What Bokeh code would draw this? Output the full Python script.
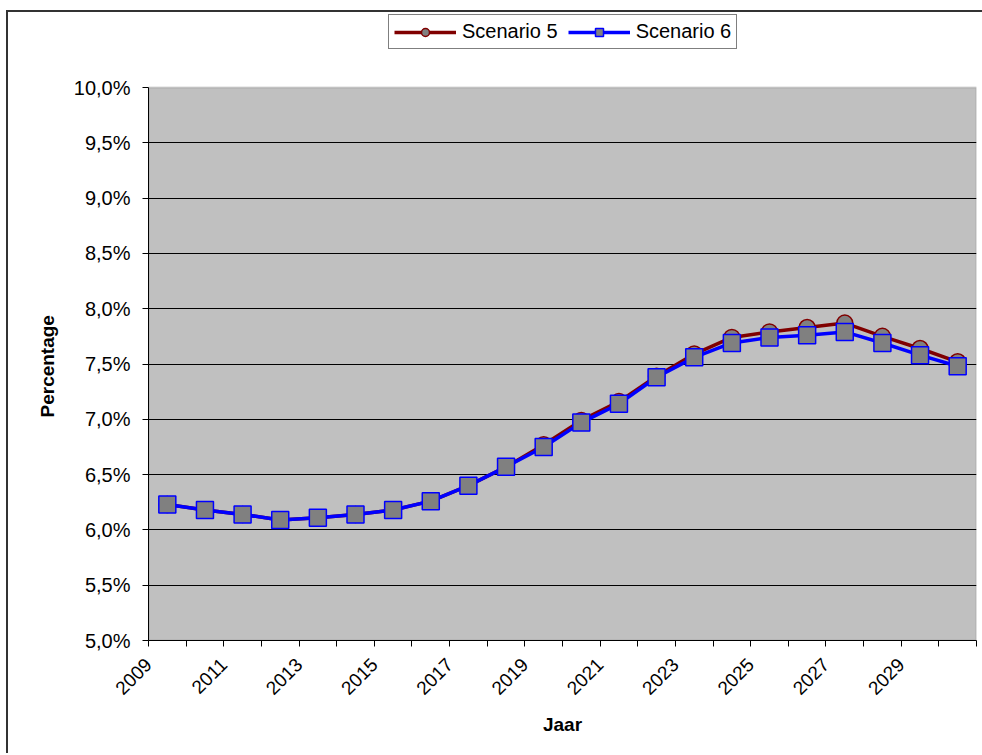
import math
from bokeh.plotting import figure
from bokeh.models import (ColumnDataSource, FixedTicker, Legend, LegendItem,
                          CustomJSTickFormatter, Range1d, BoxAnnotation, Title)
from bokeh.embed import file_html
from bokeh.resources import INLINE

# ---- data ----
years = [2009, 2010, 2011, 2012, 2013, 2014, 2015, 2016, 2017, 2018, 2019,
         2020, 2021, 2022, 2023, 2024, 2025, 2026, 2027, 2028, 2029, 2030]
scenario5 = [6.23, 6.18, 6.14, 6.09, 6.11, 6.14, 6.18, 6.26, 6.40, 6.57, 6.77,
             6.99, 7.16, 7.39, 7.59, 7.74, 7.79, 7.83, 7.87, 7.75, 7.64, 7.52]
scenario6 = [6.23, 6.18, 6.14, 6.09, 6.11, 6.14, 6.18, 6.26, 6.40, 6.57, 6.75,
             6.97, 7.14, 7.38, 7.56, 7.69, 7.74, 7.76, 7.79, 7.69, 7.58, 7.48]
y_ticks = [5.0, 5.5, 6.0, 6.5, 7.0, 7.5, 8.0, 8.5, 9.0, 9.5, 10.0]

FONT = "Liberation Sans"

PLOT_H = 553          # pixel height of the 5%..10% band
FRAME_H = 628         # frame includes room above the band for the legend
y_lo, y_hi = y_ticks[0], y_ticks[-1]
y_top = y_lo + (y_hi - y_lo) * FRAME_H / PLOT_H

xpos = [i + 0.5 for i in range(len(years))]
src = ColumnDataSource(dict(x=xpos, s5=scenario5, s6=scenario6))

p = figure(frame_width=828, frame_height=FRAME_H, output_backend="svg",
           toolbar_location=None,
           x_range=Range1d(0, len(years)), y_range=Range1d(y_lo, y_top),
           min_border_left=140, min_border_right=6, min_border_top=0,
           min_border_bottom=113)
p.styles = {"border-left": "2px solid #333333", "border-top": "2px solid #333333",
            "margin-left": "6px", "margin-top": "10px"}

p.background_fill_color = "white"
p.border_fill_color = "white"
p.outline_line_color = None

# plot band
band = BoxAnnotation(bottom=y_lo, top=y_hi, fill_color="#C0C0C0", fill_alpha=1,
                     line_color="#808080", line_width=2, level="image")
p.add_layout(band)

# grid
p.xgrid.visible = False
p.ygrid.ticker = FixedTicker(ticks=y_ticks[1:-1])
p.ygrid.grid_line_color = "black"
p.ygrid.grid_line_width = 1

# y axis
p.yaxis.bounds = (y_lo, y_hi)
p.yaxis.ticker = FixedTicker(ticks=y_ticks)
p.yaxis.formatter = CustomJSTickFormatter(
    code="return tick.toFixed(1).replace('.', ',') + '%';")
p.yaxis.major_label_text_font = FONT
p.yaxis.major_label_text_font_size = "20px"
p.yaxis.major_label_text_color = "black"
p.yaxis.major_label_standoff = 12
p.yaxis.minor_tick_line_color = None
p.yaxis.major_tick_out = 6
p.yaxis.major_tick_in = 0
p.yaxis.axis_line_color = "black"

# y axis title, centred on the 5%..10% band
ytitle = Title(text="Percentage", align="left", offset=223, standoff=25,
               text_font=FONT, text_font_style="bold", text_font_size="19px",
               text_color="black")
p.add_layout(ytitle, "left")

# x axis
xt = list(range(len(years) + 1))
overrides = {}
for i in xt:
    overrides[i] = str(years[i]) if (i < len(years) and i % 2 == 0) else ""
p.xaxis.ticker = FixedTicker(ticks=xt)
p.xaxis.major_label_overrides = overrides
p.xaxis.major_label_orientation = math.pi / 4
p.xaxis.major_label_text_font = FONT
p.xaxis.major_label_text_font_size = "19px"
p.xaxis.major_label_text_color = "black"
p.xaxis.major_label_standoff = 15
p.xaxis.minor_tick_line_color = None
p.xaxis.major_tick_out = 6
p.xaxis.major_tick_in = 0
p.xaxis.axis_label = "Jaar"
p.xaxis.axis_label_text_font = FONT
p.xaxis.axis_label_text_font_style = "bold"
p.xaxis.axis_label_text_font_size = "19px"
p.xaxis.axis_label_text_color = "black"
p.xaxis.axis_label_standoff = 10

# series
l5 = p.line("x", "s5", source=src, line_color="#800000", line_width=3.5)
m5 = p.scatter("x", "s5", source=src, marker="circle", size=16,
               fill_color="#808080", line_color="#800000", line_width=1.5)
l6 = p.line("x", "s6", source=src, line_color="#0000FF", line_width=3.5)
m6 = p.scatter("x", "s6", source=src, marker="square", size=17,
               fill_color="#808080", line_color="#0000FF", line_width=1.5)

legend = Legend(items=[LegendItem(label="Scenario 5", renderers=[l5, m5]),
                       LegendItem(label="Scenario 6", renderers=[l6, m6])],
                orientation="horizontal", location=(240, 591),
                label_text_font=FONT, label_text_font_size="20px",
                label_text_color="black",
                border_line_color="black", border_line_width=1,
                background_fill_color="white", background_fill_alpha=1,
                glyph_width=62, glyph_height=20, spacing=10, padding=5,
                margin=0, label_standoff=6)
p.add_layout(legend, "center")

open("out.html", "w").write(file_html(p, INLINE))
